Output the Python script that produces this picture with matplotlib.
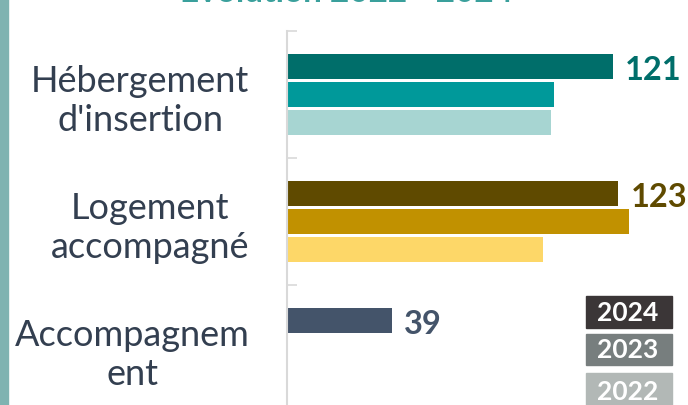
import numpy as np
import matplotlib
matplotlib.use('Agg')
import matplotlib.pyplot as plt
from matplotlib.patches import Rectangle

categories = ["Hébergement\nd'insertion", "Logement\naccompagné", "Accompagnem\nent"]
years = ["2024", "2023", "2022"]
vals_2024 = [121, 123, 39]
vals_2023 = [99, 127, np.nan]
vals_2022 = [98, 95, np.nan]

# une palette par catégorie : 2024, 2023, 2022
couleurs = [
    ['#006e6a', '#00999a', '#a7d5d2'],
    ['#5f4a00', '#c19100', '#fdd768'],
    ['#44546a', '#44546a', '#44546a'],
]
legende_couleurs = ['#3b3637', '#777e7e', '#b2b8b6']

plt.rcParams['font.family'] = ['Lato', 'DejaVu Sans']

W, H = 688, 406
fig = plt.figure(figsize=(W / 100, H / 100), dpi=100)

px_unit = 2.694
xmax = 150
ax = fig.add_axes([287 / W, 1 - 413 / H, xmax * px_unit / W, 381 / H])

series = [vals_2024, vals_2023, vals_2022]
bar_h = 25 / 127
step = 28 / 127
centres = np.arange(len(categories)) + 0.5
for i, vals in enumerate(series):
    for k, v in enumerate(vals):
        if np.isnan(v):
            continue
        ax.barh(centres[k] + (i - 1) * step, v, height=bar_h, color=couleurs[k][i])

for k, v in enumerate(vals_2024):
    ax.text(v + 4.5, centres[k] - step + 0.02, str(v), va='center', ha='left',
            fontsize=23.5, fontweight='bold', color=couleurs[k][0])

ax.set_xlim(0, xmax)
ax.set_ylim(3, 0)
ax.set_yticks([0, 1, 2, 3])
ax.set_yticklabels([])
ax.set_yticks(centres, minor=True)
ax.set_yticklabels(categories, minor=True, fontsize=26, color='#333f50',
                   ha='right', multialignment='center', linespacing=1.2)
ax.tick_params(axis='y', which='major', direction='in', length=7.5, width=1.2, color='#d9d9d9')
ax.tick_params(axis='y', which='minor', length=0, pad=27)
ax.set_xticks([])
for s in ['top', 'right', 'bottom']:
    ax.spines[s].set_visible(False)
ax.spines['left'].set_color('#d9d9d9')
ax.spines['left'].set_linewidth(1.5)

# bandeau vertical à gauche
fig.patches.append(Rectangle((0, 0), 8 / W, 1, transform=fig.transFigure,
                             color='#7fb3b1', zorder=0))

# titre coupé en haut
fig.text(347 / W, 1 - 1.5 / H, "Évolution 2022 - 2024", ha='center', va='baseline',
         fontsize=24, fontweight='bold', color='#3aa09c')

# légende en boîtes
boites = [(297, 329), (335, 366), (374, 410)]
for yr, c, (y0, y1) in zip(years, legende_couleurs, boites):
    fig.patches.append(Rectangle((586 / W, 1 - y1 / H), 86 / W, (y1 - y0) / H,
                                 transform=fig.transFigure, color=c))
    fig.text(628 / W, 1 - (y0 + y1) / 2 / H, yr, ha='center', va='center',
             fontsize=19, fontweight='bold', color='white')

fig.savefig('out.png', dpi=100)
